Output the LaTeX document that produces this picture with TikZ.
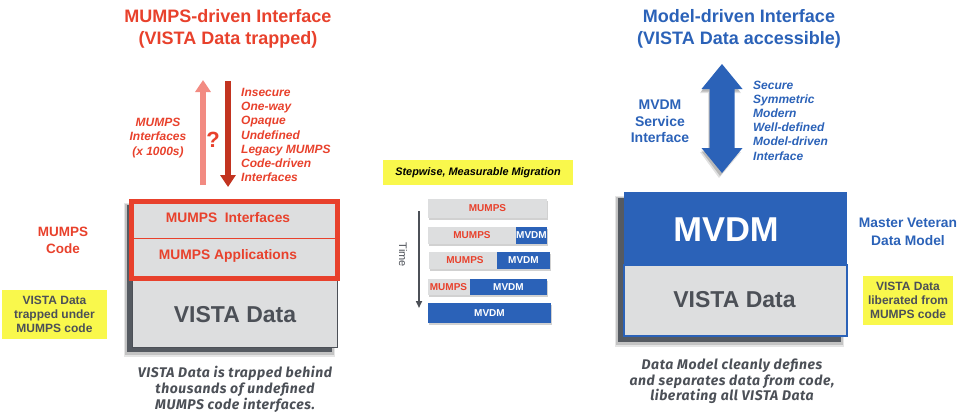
\documentclass[tikz,border=0pt]{standalone}
\usepackage{fontspec}
\setmainfont{Liberation Sans}
\newfontfamily\capfont{Fira Sans}[LetterSpace=4]
\usetikzlibrary{arrows.meta}
\definecolor{tred}{HTML}{E8412C}
\definecolor{lred}{HTML}{F28B82}
\definecolor{dred}{HTML}{C23420}
\definecolor{vblue}{HTML}{2B62B8}
\definecolor{boxgray}{HTML}{DDDEDF}
\definecolor{dgray}{HTML}{4C5057}
\definecolor{shgray}{HTML}{555A61}
\definecolor{hyellow}{HTML}{F9F84C}
\tikzset{
  ttl/.style={font=\fontsize{18}{22}\selectfont\bfseries, align=center, inner sep=0},
  lbl/.style={font=\fontsize{#1}{#1}\selectfont\bfseries, align=center, inner sep=0},
  ilist/.style={font=\fontsize{12}{14.1}\selectfont\bfseries\itshape, align=left, inner sep=0, anchor=west},
  captext/.style={font=\capfont\fontsize{14}{16}\selectfont\bfseries\itshape, align=center, inner sep=0, text=dgray},
  ybox/.style={fill=hyellow, inner sep=0, align=center, font=\fontsize{12}{14}\selectfont\bfseries, text=dgray},
  bargray/.style={fill=boxgray, inner sep=0, outer sep=0, text=tred, font=\fontsize{10}{12}\selectfont\bfseries},
  barblue/.style={fill=vblue, inner sep=0, outer sep=0, text=white, font=\fontsize{10}{12}\selectfont\bfseries},
  barshadow/.style={fill=black, opacity=0.18}
}
\begin{document}
\begin{tikzpicture}[x=1pt,y=-1pt]
\useasboundingbox (0,0) rectangle (966,418);

% ---------- Left side ----------
\node[ttl, text=tred] (tl) at (228,29) {MUMPS-driven Interface\\(VISTA Data trapped)};

\coordinate (la1) at (203,185);
\coordinate (la2) at (203,80);
\draw[lred, line width=6pt, -{Triangle[length=12pt,width=15pt]}] (la1) -- (la2);
\coordinate (da1) at (228,81);
\coordinate (da2) at (228,187);
\draw[dred, line width=6pt, -{Triangle[length=12pt,width=15pt]}] (da1) -- (da2);

\node[text=tred, font=\fontsize{22}{24}\selectfont\bfseries, inner sep=0] (q) at (213,140) {?};
\node[lbl=12, text=tred, font=\fontsize{12}{14.5}\selectfont\bfseries\itshape] (mi) at (158,138) {MUMPS\\Interfaces\\(x 1000s)};
\node[ilist, text=tred] (ll) at (241,135) {Insecure\\One-way\\Opaque\\Undefined\\Legacy MUMPS\\Code-driven\\Interfaces};

% left box shadow
\fill[black, opacity=0.10] (124,203) rectangle (335,357);
\fill[black, opacity=0.15] (125,204) rectangle (334,355);
\fill[shgray] (127,205) rectangle (332,352);
\node[draw=dgray, line width=0.8pt, fill=boxgray, minimum width=205pt, minimum height=148pt, inner sep=0, outer sep=0, anchor=north west] (lbox) at (132,199) {};
\node[draw=tred, line width=5pt, minimum width=206pt, minimum height=77pt, inner sep=0, outer sep=0, anchor=north west] (redbox) at (131.5,201.5) {};
\coordinate (dv1) at (134,238);
\coordinate (dv2) at (335,238);
\draw[tred, line width=1pt] (dv1) -- (dv2);
\node[lbl=13.8, text=tred] (mif) at (228,218) {MUMPS\ \ Interfaces};
\node[lbl=13.8, text=tred] (map) at (228,256) {MUMPS Applications};
\node[lbl=23, text=dgray] (vdl) at (235,315) {VISTA Data};

\node[lbl=13.5, text=tred, font=\fontsize{13.5}{17}\selectfont\bfseries] (mc) at (63,240.5) {MUMPS\\Code};
\node[ybox, minimum width=105pt, minimum height=49pt] (yl) at (54.5,314.5) {VISTA Data\\trapped under\\MUMPS code};

\node[captext] (capl) at (235,389) {VISTA Data is trapped behind\\thousands of undefined\\MUMPS code interfaces.};

% ---------- Middle ----------
\node[fill=hyellow, minimum width=190pt, minimum height=25pt, inner sep=0, font=\fontsize{10.9}{12}\selectfont\bfseries\itshape] (sw) at (478,172.5) {Stepwise, Measurable Migration};

\fill[barshadow] (429,200.5) rectangle (548,219.5);
\node[bargray, minimum width=119pt, minimum height=19pt] (b1) at (487.5,208.5) {MUMPS};

\fill[barshadow] (429,228.5) rectangle (548,245.5);
\node[bargray, minimum width=88pt, minimum height=17pt, anchor=north west] (b2a) at (428,227) {};
\node[barblue, minimum width=31pt, minimum height=17pt, anchor=north west] (b2b) at (516,227) {MVDM};
\node[text=tred, font=\fontsize{10}{12}\selectfont\bfseries, inner sep=0] (t2) at (472,235.5) {MUMPS};

\fill[barshadow] (430,253.5) rectangle (551,270.5);
\node[bargray, minimum width=68pt, minimum height=17pt, anchor=north west] (b3a) at (429,252) {};
\node[barblue, minimum width=53pt, minimum height=17pt, anchor=north west] (b3b) at (497,252) {MVDM};
\node[text=tred, font=\fontsize{10}{12}\selectfont\bfseries, inner sep=0] (t3) at (465,260.5) {MUMPS};

\fill[barshadow] (429,280.5) rectangle (548,296.5);
\node[bargray, minimum width=42pt, minimum height=16pt, anchor=north west] (b4a) at (428,279) {};
\node[barblue, minimum width=77pt, minimum height=16pt, anchor=north west] (b4b) at (470,279) {MVDM};
\node[text=tred, font=\fontsize{10}{12}\selectfont\bfseries, inner sep=0] (t4) at (448.5,287) {MUMPS};

\fill[barshadow] (429,304.5) rectangle (552,324.5);
\node[barblue, minimum width=123pt, minimum height=20pt] (b5) at (489.5,313) {MVDM};

\coordinate (ta1) at (419,211);
\coordinate (ta2) at (419,308);
\draw[dgray, line width=1.6pt, -{Triangle[length=7pt,width=6pt]}] (ta1) -- (ta2);
\node[rotate=-90, text=dgray, font=\fontsize{11}{12}\selectfont, inner sep=0] (time) at (403,255) {Time};

% ---------- Right side ----------
\node[ttl, text=vblue] (tr) at (739,29) {Model-driven Interface\\(VISTA Data accessible)};

% blue double arrow with shadow
\fill[black, opacity=0.12] (719,68) -- (700,93) -- (708,93) -- (708,152) -- (700,152) -- (719,178) -- (741,152) -- (733,152) -- (733,93) -- (741,93) -- cycle;
\fill[black, opacity=0.18] (720,66.5) -- (701,91.5) -- (709,91.5) -- (709,150.5) -- (701,150.5) -- (720,176) -- (740,150.5) -- (732,150.5) -- (732,91.5) -- (740,91.5) -- cycle;
\fill[vblue] (722,64) -- (701.5,89) -- (709.5,89) -- (709.5,148) -- (701.5,148) -- (722,173) -- (742.5,148) -- (734.5,148) -- (734.5,89) -- (742.5,89) -- cycle;
\coordinate (bt) at (722,64);
\coordinate (bb) at (722,173);

\node[lbl=14, text=vblue, font=\fontsize{14}{16.5}\selectfont\bfseries] (msi) at (660,121.5) {MVDM\\Service\\Interface};
\node[ilist, text=vblue, font=\fontsize{12}{14.2}\selectfont\bfseries\itshape] (rl) at (753,120.5) {Secure\\Symmetric\\Modern\\Well-defined\\Model-driven\\Interface};

% right box shadow
\fill[black, opacity=0.10] (615,196) rectangle (844,347);
\fill[black, opacity=0.15] (616,197) rectangle (843,345);
\fill[shgray] (618,198) rectangle (841,342);
\node[fill=boxgray, draw=vblue, line width=1.2pt, minimum width=223pt, minimum height=71pt, inner sep=0, outer sep=0, anchor=north west] (rgray) at (624,265) {};
\node[fill=vblue, minimum width=223pt, minimum height=73pt, inner sep=0, outer sep=0, anchor=north west] (rblue) at (624,192) {};
\node[lbl=34.5, text=white] (mvdm) at (726,230) {MVDM};
\node[lbl=23, text=dgray] (vdr) at (734.5,300) {VISTA Data};

\node[lbl=13.8, text=vblue, font=\fontsize{13.8}{18}\selectfont\bfseries] (mvm) at (908,232) {Master Veteran\\Data Model};
\node[ybox, minimum width=90pt, minimum height=49pt] (yr) at (908,300.5) {VISTA Data\\liberated from\\MUMPS code};

\node[captext, font=\capfont\fontsize{14}{15.5}\selectfont\bfseries\itshape] (capr) at (732,381.5) {Data Model cleanly defines\\and separates data from code,\\liberating all VISTA Data};
\end{tikzpicture}
\end{document}
